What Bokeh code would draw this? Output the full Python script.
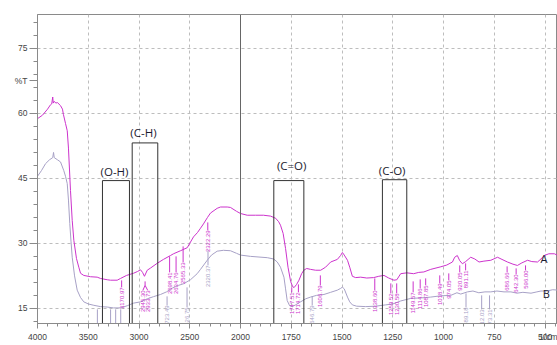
import math
from bokeh.plotting import figure
from bokeh.models import FixedTicker, Span, Label, ColumnDataSource
from bokeh.embed import file_html
from bokeh.resources import INLINE
from bokeh.core.properties import value

# ---------------- data ----------------
# spectrum A (magenta): wavenumber (1/cm) and %T
wn_a = [4000, 3951, 3901, 3872, 3860, 3850, 3845, 3835, 3820, 3803, 3773, 3754, 3745, 3724, 3707,
        3695, 3675, 3658, 3642, 3616, 3593, 3576, 3544, 3478, 3412, 3379, 3313, 3281, 3215, 3182,
        3123, 3054, 3015, 2985, 2965, 2946, 2919, 2887, 2821, 2759, 2690, 2660, 2591, 2525, 2463,
        2424, 2394, 2365, 2325, 2296, 2230, 2197, 2131, 2099, 2039, 2000,
        1967, 1926, 1887, 1852, 1827, 1812, 1803, 1790, 1778, 1766, 1753, 1743, 1736, 1724, 1712,
        1699, 1688, 1674, 1655, 1630, 1605, 1581, 1556, 1523, 1507, 1498, 1489, 1473, 1462, 1449,
        1433, 1408, 1378, 1344, 1319, 1293, 1270, 1244, 1230, 1211, 1181, 1147, 1122, 1097, 1063,
        1013, 984, 956, 945, 932, 920, 907, 891, 866, 846, 825, 801, 767, 734, 712, 685, 658, 636,
        614, 586, 565, 537, 520, 504, 481, 454, 436]
t_a = [58.8, 59.6, 61.0, 62.0, 62.2, 63.8, 62.4, 62.8, 62.4, 62.5, 61.8, 61.0, 59.8, 57.7, 56.0,
       52.0, 42.2, 35.3, 30.7, 26.5, 24.5, 23.1, 22.6, 22.3, 22.2, 21.9, 21.6, 21.5, 21.5, 21.9,
       22.6, 23.1, 23.5, 23.9, 23.3, 22.4, 23.8, 24.3, 25.4, 26.3, 27.2, 27.6, 28.3, 29.0, 31.5,
       32.5, 33.5, 34.5, 36.0, 37.0, 38.1, 38.4, 38.4, 38.3, 37.4, 36.9,
       36.5, 36.5, 36.5, 36.3, 35.8, 35.0, 34.2, 32.3, 28.8, 24.5, 21.2, 20.0, 19.8, 20.5, 21.5,
       23.0, 23.8, 24.2, 24.0, 23.8, 23.8, 24.5, 25.7, 26.3, 27.2, 27.9, 27.3, 26.1, 24.5, 22.4,
       22.1, 22.2, 22.0, 22.1, 22.4, 22.6, 22.0, 21.5, 21.6, 23.0, 23.2, 23.0, 23.3, 23.4, 24.0,
       24.6, 25.0, 25.7, 26.8, 27.2, 26.0, 25.3, 25.8, 26.8, 26.4, 25.7, 25.9, 26.1, 26.8, 26.3,
       25.7, 25.2, 24.9, 25.5, 26.1, 25.8, 25.7, 26.4, 27.2, 27.6, 27.6, 27.2]

# spectrum B (grey-violet)
wn_b = [4000, 3961, 3921, 3882, 3850, 3842, 3835, 3803, 3773, 3741, 3724, 3707, 3695, 3682, 3670,
        3658, 3635, 3609, 3576, 3544, 3498, 3445, 3379, 3313, 3251, 3182, 3116, 3054, 2985, 2919,
        2857, 2788, 2729, 2670, 2611, 2559, 2493, 2427, 2394, 2328, 2286, 2230, 2168, 2099, 2039,
        2000, 1951, 1868, 1837, 1819, 1803, 1786, 1778, 1770, 1758, 1745, 1729, 1704, 1679, 1655,
        1625, 1589, 1556, 1523, 1507, 1498, 1489, 1473, 1462, 1449, 1428, 1383, 1334, 1285, 1250,
        1211, 1161, 1112, 1063, 1013, 964, 934, 915, 882, 855, 826, 796, 767, 737, 702, 668, 638,
        609, 569, 540, 520, 491, 462, 436]
t_b = [45.5, 46.8, 48.4, 49.3, 49.8, 51.0, 49.8, 49.3, 48.8, 46.8, 45.5, 43.8, 40.0, 34.6, 30.5,
       26.8, 22.5, 19.2, 17.5, 16.5, 16.0, 15.7, 15.4, 15.3, 15.1, 15.1, 15.6, 16.2, 16.5, 17.2,
       17.7, 18.2, 18.8, 19.7, 20.3, 20.7, 21.6, 23.0, 24.0, 26.1, 27.3, 28.2, 28.4, 28.3, 27.7,
       27.3, 27.0, 26.7, 26.4, 25.7, 24.5, 22.2, 19.5, 16.8, 15.6, 15.4, 15.8, 16.5, 17.2, 17.6,
       18.0, 18.2, 18.7, 19.2, 19.6, 19.9, 19.5, 17.6, 16.5, 15.8, 15.5, 15.4, 15.5, 15.8, 16.0,
       16.7, 17.3, 17.4, 17.6, 17.9, 18.0, 18.6, 18.3, 18.8, 19.0, 18.6, 18.8, 18.8, 19.0, 18.8,
       18.8, 18.5, 18.7, 18.5, 18.8, 19.0, 19.0, 19.3, 19.2]

# peak labels of A
peak_a = ["3170.97", "2945.30", "2933.73", "2698.41", "2634.76", "2565.33", "2322.29", "1747.51",
          "1714.72", "1606.79", "1338.60", "1259.52", "1230.58", "1149.57", "1114.86", "1087.85",
          "1018.49", "974.05", "920.05", "891.11", "686.66", "642.30", "596.00"]
# peak labels of B
peak_b = ["2723.49", "2526.75", "2320.37", "1646.79", "889.18", "812.03", "773.31"]

x_tick_wn = [4000, 3500, 3000, 2500, 2000, 1750, 1500, 1250, 1000, 750, 500]
y_ticks = [15, 30, 45, 60, 75]
y_title = "%T"
x_unit = "1/cm"
sample = "E 523"

regions = ["(O-H)", "(C-H)", "(C=O)", "(C-O)"]
region_hi = [3360, 3067, 1836, 1301]
region_lo = [3094, 2815, 1688, 1181]
region_top = [44.5, 53.2, 44.5, 44.7]

# ---------------- layout helpers ----------------
def pos(wn):
    # split wavenumber axis: above 2000 1/cm compressed by a factor 2
    return 4000 - wn if wn >= 2000 else 2000 + 2 * (2000 - wn)

def ty(ypix):
    return 75 - (ypix - 48) / 4.333

MAG = "#cc33cc"
GRY = "#a7a1c6"

p = figure(width=557, height=345, output_backend="svg", toolbar_location=None,
           x_range=(0, 5123), y_range=(11.5, 82.85),
           min_border_left=37, min_border_right=0, min_border_top=14, min_border_bottom=22)
p.background_fill_color = "white"
p.border_fill_color = None
p.outline_line_color = "#8a8a8a"

# axes (the y title and the x unit ride along as extra tick labels)
Y_TITLE_AT = 67.6
X_UNIT_AT = 5121
xt = [pos(w) for w in x_tick_wn]
p.xaxis.ticker = FixedTicker(ticks=xt + [X_UNIT_AT], minor_ticks=list(range(0, 5200, 100)))
ovr = {pos(w): str(w) for w in x_tick_wn}
ovr[X_UNIT_AT] = x_unit
p.xaxis.major_label_overrides = ovr
p.yaxis.ticker = FixedTicker(ticks=y_ticks + [Y_TITLE_AT], minor_ticks=list(range(12, 82, 3)))
p.yaxis.major_label_overrides = {Y_TITLE_AT: y_title}
for ax in (p.xaxis[0], p.yaxis[0]):
    ax.axis_line_color = "#8a8a8a"
    ax.major_tick_line_color = "#8a8a8a"
    ax.minor_tick_line_color = "#8a8a8a"
    ax.major_tick_in = 0
    ax.minor_tick_in = 0
    ax.major_label_text_font = "Liberation Sans"
    ax.major_label_text_font_size = "8.5px"
    ax.major_label_text_color = "#444444"
p.xaxis.major_tick_out = 5
p.xaxis.minor_tick_out = 3
p.xaxis.major_label_standoff = 3
p.yaxis.major_tick_out = 8
p.yaxis.minor_tick_out = 4
p.yaxis.major_label_standoff = 2

p.xgrid[0].ticker = FixedTicker(ticks=xt)
p.ygrid[0].ticker = FixedTicker(ticks=y_ticks)
for g in (p.xgrid[0], p.ygrid[0]):
    g.grid_line_color = "#bdbdbd"
    g.grid_line_dash = "3 3"

p.add_layout(Span(location=pos(2000), dimension="height", line_color="#666666", line_width=1))

# spectra
p.line([pos(w) for w in wn_a], t_a, line_color=MAG, line_width=1)
p.line([pos(w) for w in wn_b], t_b, line_color=GRY, line_width=1)

# peak annotations (wavenumber of label, line start, text start in %T)
lay_a = {"3170.97": (3170.97, ty(280), ty(287)),
         "2698.41": (2698.41, ty(256), ty(272)),
         "2634.76": (2634.76, ty(256), ty(272)),
         "2565.33": (2565.33, ty(246), ty(262)),
         "2322.29": (2322.29, ty(222), ty(230)),
         "1747.51": (1747.51, ty(287), ty(292)),
         "1714.72": (1714.72, ty(284), ty(292)),
         "1606.79": (1606.79, ty(275), ty(285)),
         "1338.60": (1338.60, ty(278), ty(290)),
         "1259.52": (1259.52, ty(283), ty(293)),
         "1230.58": (1230.58, ty(283), ty(293)),
         "1149.57": (1149.57, ty(281), ty(292)),
         "1114.86": (1114.86, ty(279), ty(288)),
         "1087.85": (1087.85, ty(278), ty(285)),
         "1018.49": (1018.49, ty(275), ty(283)),
         "974.05": (974.05, ty(273), ty(280)),
         "920.05": (920.05, ty(265), ty(272)),
         "891.11": (891.11, ty(263), ty(270)),
         "686.66": (686.66, ty(266), ty(272)),
         "642.30": (642.30, ty(268), ty(274)),
         "596.00": (596.00, ty(265), ty(270))}
lay_b = {"2723.49": (2723.49, ty(296), ty(305)),
         "2526.75": (2526.75, ty(287), ty(307)),
         "2320.37": (2320.37, ty(250), ty(265)),
         "1646.79": (1646.79, ty(296), ty(305)),
         "889.18": (889.18, ty(293), ty(307)),
         "812.03": (812.03, ty(295), ty(309)),
         "773.31": (773.31, ty(295), ty(309))}

def annotate(labels, layout, color):
    xs, y0, y1, txt = [], [], [], []
    for lab in labels:
        if lab not in layout:
            continue
        w, a, b = layout[lab]
        xs.append(pos(w)); y0.append(a); y1.append(b); txt.append(lab)
    p.segment(x0=xs, y0=y0, x1=xs, y1=y1, line_color=color, line_width=1)
    p.text(x=xs, y=y1, text=txt, angle=math.pi / 2, text_align="right", text_baseline="middle",
           text_color=color, text_font=value("Liberation Sans"), text_font_size="6px")

annotate(peak_a, lay_a, MAG)
annotate(peak_b, lay_b, GRY)

# forked label pair at 2945 / 2934
fx = pos(2940)
p.segment(x0=[fx, fx, fx], y0=[ty(281), ty(285), ty(285)], x1=[fx, pos(2962), pos(2914)],
          y1=[ty(285), ty(290), ty(290)], line_color=MAG, line_width=1)
p.text(x=[pos(2962), pos(2914)], y=[ty(290), ty(290)], text=[peak_a[1], peak_a[2]],
       angle=math.pi / 2, text_align="right", text_baseline="middle", text_color=MAG,
       text_font=value("Liberation Sans"), text_font_size="6px")

# short B marker lines around 3400-3150
bx = [3410, 3360, 3280, 3230, 3180]
p.segment(x0=[pos(w) for w in bx], y0=[ty(309)] * 5, x1=[pos(w) for w in bx], y1=[ty(330)] * 5,
          line_color=GRY, line_width=1)

# functional group boxes
src = ColumnDataSource(dict(left=[pos(w) for w in region_hi], right=[pos(w) for w in region_lo],
                            top=region_top, bottom=[5] * 4))
p.quad(left="left", right="right", top="top", bottom="bottom", source=src,
       fill_alpha=0, line_color="#333333", line_width=1)
lab_x = [3241, 2956, 1748, 1253]
lab_y = [ty(170.7), ty(131.7), ty(165), ty(170)]
p.text(x=[pos(w) for w in lab_x], y=lab_y, text=regions, text_align="center",
       text_baseline="middle", text_color="#1c1c30", text_font=value("Open Sans"),
       text_font_size="11.5px")

# curve names
p.text(x=[pos(505), pos(494)], y=[ty(258), ty(293)], text=["A", "B"], text_align="center",
       text_baseline="middle", text_color="#1c1c30", text_font=value("Open Sans"),
       text_font_size="11px")

# sample name under the axis (canvas pixel units)
p.add_layout(Label(x=37, y=333, x_units="canvas", y_units="canvas", text=sample,
                   text_align="left", text_baseline="top", level="overlay",
                   text_font="Liberation Sans", text_font_size="10px", text_color=MAG))

open("out.html", "w").write(file_html(p, INLINE))
